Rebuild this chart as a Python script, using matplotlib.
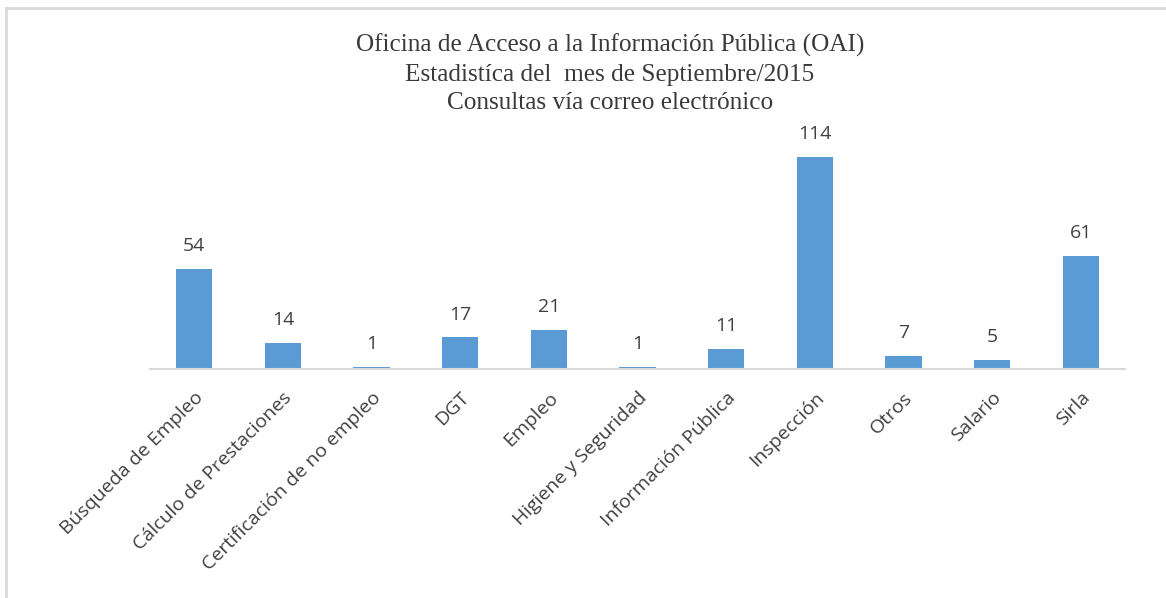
import matplotlib
matplotlib.use('Agg')
import matplotlib.pyplot as plt
from matplotlib.lines import Line2D

categories = ['Búsqueda de Empleo', 'Cálculo de Prestaciones', 'Certificación de no empleo',
              'DGT', 'Empleo', 'Higiene y Seguridad', 'Información Pública',
              'Inspección', 'Otros', 'Salario', 'Sirla']
values = [54, 14, 1, 17, 21, 1, 11, 114, 7, 5, 61]

title_lines = ['Oficina de Acceso a la Información Pública (OAI)',
               'Estadistíca del  mes de Septiembre/2015',
               'Consultas vía correo electrónico']

W, H = 1166, 598
fig = plt.figure(figsize=(W / 100, H / 100), dpi=100)

# chart area border (only top and left visible in reference)
border = '#D9D9D9'
fig.add_artist(Line2D([6 / W, 1], [1 - 8 / H, 1 - 8 / H], color=border, lw=2, transform=fig.transFigure))
fig.add_artist(Line2D([6 / W, 6 / W], [0, 1 - 8 / H], color=border, lw=2, transform=fig.transFigure))

left, right = 150 / W, 1125 / W
base = (H - 369) / H
top = (H - 146) / H
ax = fig.add_axes([left, base, right - left, top - base])

x = list(range(len(categories)))
ax.bar(x, values, width=0.41, color='#5B9BD5', zorder=2)
ax.set_xlim(-0.5, len(categories) - 0.5)
ax.set_ylim(0, 120)

for xi, v in zip(x, values):
    ax.annotate(str(v), (xi, v), xytext=(0, 10), textcoords='offset points',
                ha='center', va='bottom', fontsize=14, color='#404040', family='Open Sans')

for s in ['top', 'right', 'left']:
    ax.spines[s].set_visible(False)
ax.spines['bottom'].set_color('#D9D9D9')
ax.spines['bottom'].set_linewidth(1.5)
ax.set_yticks([])
ax.set_xticks(x)
ax.set_xticklabels(categories, rotation=45, ha='right', rotation_mode='anchor',
                   fontsize=14, color='#404040', family='Open Sans')
ax.tick_params(axis='x', length=0, pad=14)

ys = [45, 75, 103]
for t, yy in zip(title_lines, ys):
    fig.text(610 / W, 1 - yy / H, t, ha='center', va='center', fontsize=18.2,
             family='Liberation Serif', color='#3a3a3a')

fig.savefig('out.png', dpi=100)
